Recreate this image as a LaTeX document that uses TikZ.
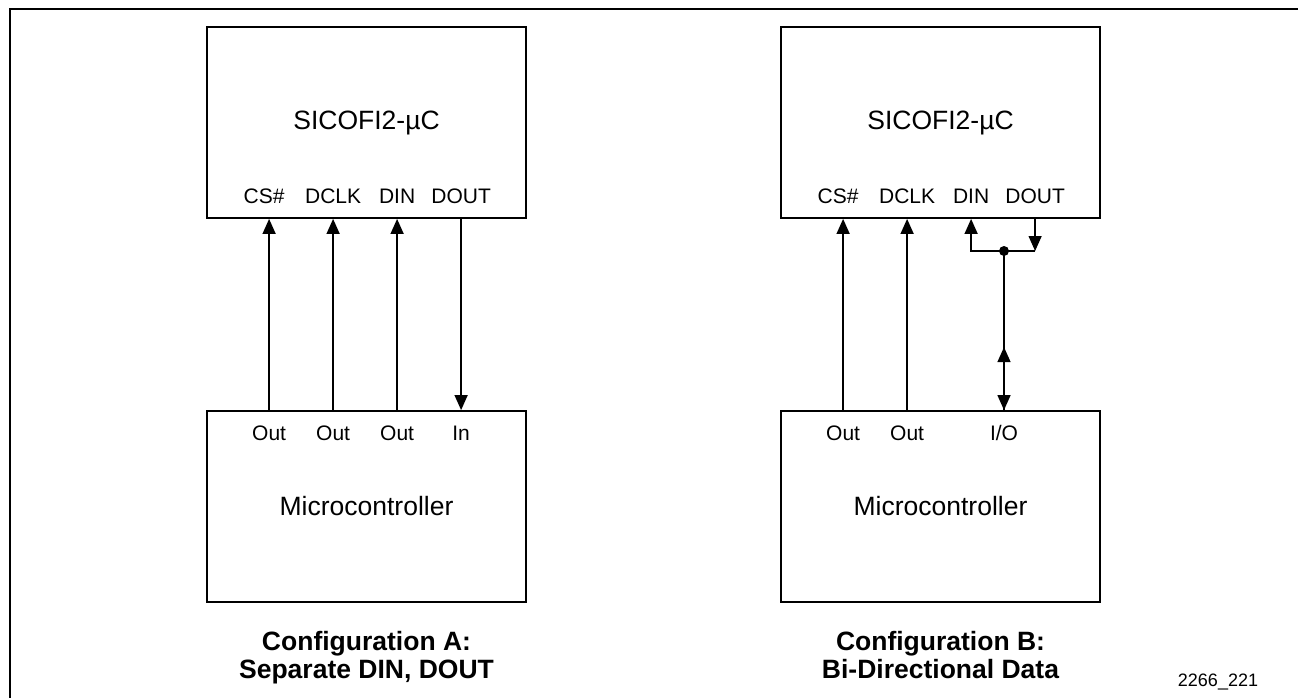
\documentclass[tikz,border=0pt]{standalone}
\usepackage{fontspec}
\setmainfont{Liberation Sans}
\usetikzlibrary{arrows.meta,positioning}

\tikzset{
	chip/.style={draw, line width=1.8pt, minimum width=319pt, minimum height=191pt, inner sep=0pt, font=\fontsize{26.5}{30}\selectfont},
	pinlabel/.style={inner sep=0pt, text height=15pt, text depth=0pt, font=\fontsize{21}{24}\selectfont},
	sig/.style={line width=1.4pt, -{Triangle[length=15pt,width=13pt]}},
	wire/.style={line width=1.4pt},
	caption/.style={inner sep=0pt, align=center, font=\fontsize{26.5}{28}\selectfont\bfseries}
}

\begin{document}
\begin{tikzpicture}[x=1pt,y=-1pt]
	\useasboundingbox (0,0) rectangle (1298,698);
	\draw [line width=1.8pt] (1298,9) -- (10,9) -- (10,698);
	
	% configuration A
	\begin{scope}[shift={(0,0)}]
	\node [chip] (sicA) at (366.5,122.5) {SICOFI2-µC};
	\node [chip] (mcA) at (366.5,506.5) {Microcontroller};
	\coordinate (csA) at ([xshift=63pt]sicA.south west);
	\coordinate (clkA) at ([xshift=127pt]sicA.south west);
	\coordinate (dinA) at ([xshift=191pt]sicA.south west);
	\coordinate (doutA) at ([xshift=255pt]sicA.south west);
	\node [pinlabel, above=15pt of csA, xshift=-5pt] {CS\#};
	\node [pinlabel, above=15pt of clkA] {DCLK};
	\node [pinlabel, above=15pt of dinA] {DIN};
	\node [pinlabel, above=15pt of doutA] {DOUT};
	\coordinate (o1A) at (mcA.north -| csA);
	\coordinate (o2A) at (mcA.north -| clkA);
	\coordinate (o3A) at (mcA.north -| dinA);
	\coordinate (inA) at (mcA.north -| doutA);
	\node [pinlabel, below=15pt of o1A] {Out};
	\node [pinlabel, below=15pt of o2A] {Out};
	\node [pinlabel, below=15pt of o3A] {Out};
	\node [pinlabel, below=15pt of inA] {In};
	\draw [sig] (o1A) -- (csA);
	\draw [sig] (o2A) -- (clkA);
	\draw [sig] (o3A) -- (dinA);
	\draw [sig] (doutA) -- (inA);
	\node [caption, below=28pt of mcA] (capA) {Configuration A:\\Separate DIN, DOUT};
	\end{scope}
	
	% configuration B
	\begin{scope}[shift={(574,0)}]
	\node [chip] (sicB) at (366.5,122.5) {SICOFI2-µC};
	\node [chip] (mcB) at (366.5,506.5) {Microcontroller};
	\coordinate (csB) at ([xshift=63pt]sicB.south west);
	\coordinate (clkB) at ([xshift=127pt]sicB.south west);
	\coordinate (dinB) at ([xshift=191pt]sicB.south west);
	\coordinate (doutB) at ([xshift=255pt]sicB.south west);
	\node [pinlabel, above=15pt of csB, xshift=-5pt] {CS\#};
	\node [pinlabel, above=15pt of clkB] {DCLK};
	\node [pinlabel, above=15pt of dinB] {DIN};
	\node [pinlabel, above=15pt of doutB] {DOUT};
	\coordinate (o1B) at (mcB.north -| csB);
	\coordinate (o2B) at (mcB.north -| clkB);
	\coordinate (jB) at (430,251);
	\coordinate (ioB) at (mcB.north -| jB);
	\node [pinlabel, below=15pt of o1B] {Out};
	\node [pinlabel, below=15pt of o2B] {Out};
	\node [pinlabel, below=15pt of ioB] {I/O};
	\draw [sig] (o1B) -- (csB);
	\draw [sig] (o2B) -- (clkB);
	\draw [sig] (jB) -| (dinB);
	\draw [sig] (doutB) -- (doutB |- jB);
	\draw [wire] (doutB |- jB) -- (jB);
	\draw [sig] (jB) -- (ioB);
	\draw [sig] (ioB) -- ([yshift=63pt]ioB);
	\fill (jB) circle (5pt);
	\node [caption, below=28pt of mcB] (capB) {Configuration B:\\Bi-Directional Data};
	\end{scope}
	
	\node [font=\fontsize{18}{20}\selectfont] (figno) at (1218,682) {2266\_221};
\end{tikzpicture}
\end{document}
